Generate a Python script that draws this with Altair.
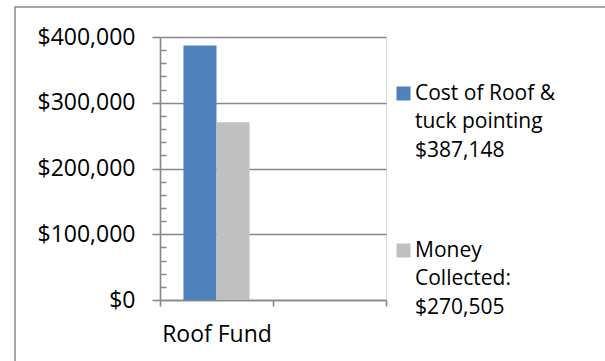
import altair as alt
import pandas as pd

categories = ["Roof Fund", "Roof Fund"]
series = ["Cost of Roof &|tuck pointing|$387,148", "Money|Collected:|$270,505"]
values = [387148, 270505]
colors = ["#4F81BD", "#C0C0C0"]
x_domain = ["Roof Fund", " "]
major_ticks = [0, 100000, 200000, 300000, 400000]
minor_ticks = [v for v in range(20000, 400000, 20000) if v % 100000]

FONT = "Open Sans"
GRID = "#878787"
W, H = 226, 263

df = pd.DataFrame({"category": categories, "series": series, "value": values})
base = alt.Chart(df)

bars = base.mark_bar().encode(
    x=alt.X(
        "category:N",
        scale=alt.Scale(domain=x_domain, paddingInner=0, paddingOuter=0),
        axis=alt.Axis(
            title=None, tickBand="extent", labelAngle=0, labelFont=FONT,
            labelFontSize=23, labelColor="#000000", labelPadding=17,
            domainColor=GRID, domainWidth=1.6, tickColor=GRID, tickWidth=1.6,
            tickSize=6, grid=False,
        ),
    ),
    xOffset=alt.XOffset(
        "series:N", sort=series,
        scale=alt.Scale(paddingInner=0, paddingOuter=0.71),
    ),
    y=alt.Y(
        "value:Q",
        scale=alt.Scale(domain=[0, 400000], nice=False),
        axis=alt.Axis(
            title=None, values=major_ticks, format="$,.0f", labelFont=FONT,
            labelFontSize=23, labelColor="#000000", labelPadding=17,
            domainColor=GRID, domainWidth=1.6, tickColor=GRID, tickWidth=1.6,
            tickSize=8, grid=True, gridColor=GRID, gridWidth=1.6,
        ),
    ),
    color=alt.Color(
        "series:N",
        scale=alt.Scale(domain=series, range=colors),
        legend=alt.Legend(
            title=None, orient="none", legendX=233, legendY=46,
            symbolType="square", symbolSize=196, symbolStrokeWidth=0,
            labelFont=FONT, labelFontSize=21, labelColor="#000000",
            labelExpr="split(datum.label, '|')",
            labelLimit=300, labelOffset=1, rowPadding=78,
        ),
    ),
)

minor = base.mark_point(opacity=0).encode(
    y=alt.Y(
        "value:Q",
        scale=alt.Scale(domain=[0, 400000], nice=False),
        axis=alt.Axis(
            orient="right", offset=-W, title=None, values=minor_ticks,
            labels=False, domain=False, grid=False, tickColor=GRID,
            tickWidth=1.5, tickSize=6,
        ),
    ),
)

frame = alt.Chart(pd.DataFrame({"k": [0]})).mark_rect(
    fill=None, stroke="#868686", strokeWidth=1.5
).encode(
    x=alt.value(-145), x2=alt.value(520), y=alt.value(-30), y2=alt.value(100 + H)
)

chart = (
    alt.layer(bars, minor, frame)
    .resolve_scale(y="independent")
    .properties(
        width=W, height=H,
        autosize=alt.AutoSizeParams(type="none"),
        padding={"left": 160, "top": 37, "right": 605 - 160 - W, "bottom": 361 - 37 - H},
        background="#FFFFFF",
    )
    .configure_view(stroke=None)
    .configure(style={"guide-label": {"lineHeight": 28.5}})
)

chart.save("out.html", embed_options={"renderer": "svg", "actions": False})
